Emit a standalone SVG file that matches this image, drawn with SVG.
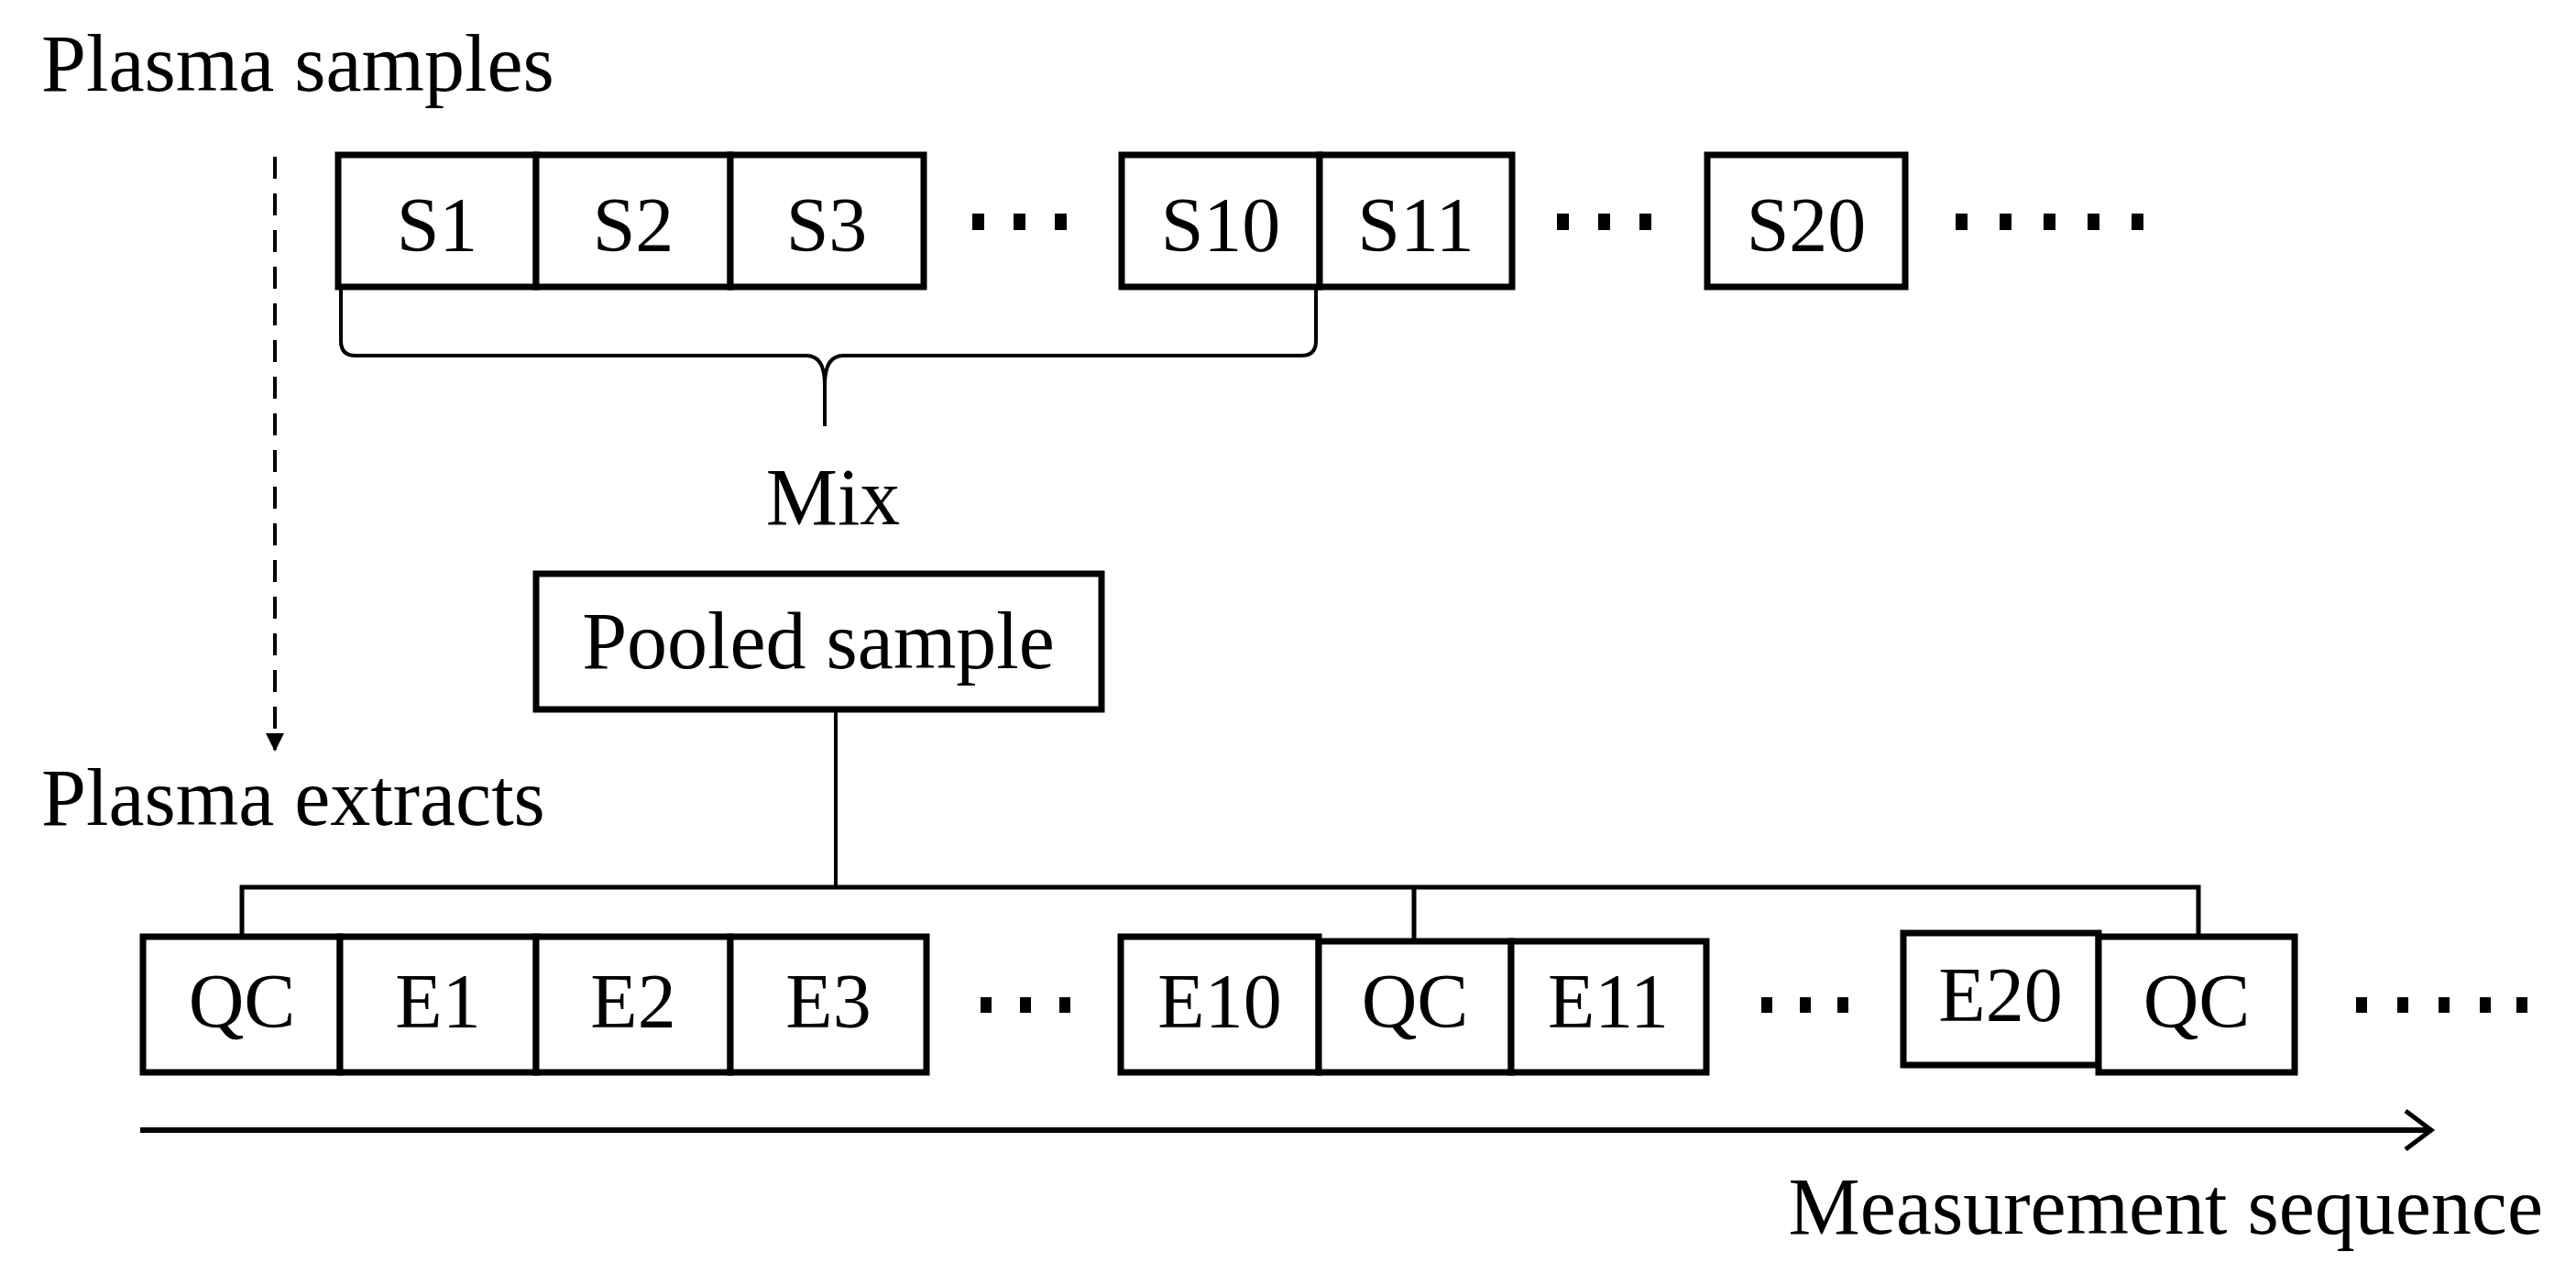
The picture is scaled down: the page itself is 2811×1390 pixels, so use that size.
<svg xmlns="http://www.w3.org/2000/svg" width="2811" height="1390" viewBox="0 0 2811 1390">
<style>
text{font-family:"Liberation Serif","Times New Roman",serif;fill:#000}
.lbl{font-size:84px;text-anchor:middle}
.big{font-size:88px}
.box{fill:#fff;stroke:#000;stroke-width:7}
.ln{fill:none;stroke:#000;stroke-width:4}
.dot{fill:#000}
</style>
<defs>
<marker id="ah" viewBox="0 0 20 20" refX="18" refY="10" markerWidth="20" markerHeight="20" markerUnits="userSpaceOnUse" orient="auto"><path d="M0,0 L20,10 L0,20 Z" fill="#000"/></marker>
</defs>
<rect width="2811" height="1390" fill="#fff"/>
<text class="big" x="45" y="99">Plasma samples</text>
<text class="big" x="45" y="900">Plasma extracts</text>
<text class="big" x="2775" y="1346" text-anchor="end">Measurement sequence</text>
<text class="big" x="909" y="572" text-anchor="middle">Mix</text>
<g id="samples">
<g id="S1"><rect class="box" x="369" y="169" width="216" height="144"/><text class="lbl" x="477" y="274">S1</text></g>
<g id="S2"><rect class="box" x="585" y="169" width="212" height="144"/><text class="lbl" x="691" y="274">S2</text></g>
<g id="S3"><rect class="box" x="797" y="169" width="211" height="144"/><text class="lbl" x="902" y="274">S3</text></g>
<g id="S10"><rect class="box" x="1224" y="169" width="216" height="144"/><text class="lbl" x="1332" y="274">S10</text></g>
<g id="S11"><rect class="box" x="1440" y="169" width="210" height="144"/><text class="lbl" x="1545" y="274">S11</text></g>
<g id="S20"><rect class="box" x="1863" y="169" width="216" height="144"/><text class="lbl" x="1971" y="274">S20</text></g>
</g>
<g id="dots-top" class="dot">
<rect x="1061" y="233" width="13" height="18"/><rect x="1106" y="233" width="13" height="18"/><rect x="1151" y="233" width="13" height="18"/>
<rect x="1699" y="233" width="13" height="18"/><rect x="1744" y="233" width="13" height="18"/><rect x="1789" y="233" width="13" height="18"/>
<rect x="2134" y="233" width="13" height="18"/><rect x="2182" y="233" width="13" height="18"/><rect x="2230" y="233" width="13" height="18"/><rect x="2278" y="233" width="13" height="18"/><rect x="2326" y="233" width="13" height="18"/>
</g>
<g id="pooled"><rect class="box" x="585" y="626" width="617" height="148"/><text class="big" x="893" y="729" text-anchor="middle">Pooled sample</text></g>
<g id="extracts">
<g id="QC1"><rect class="box" x="156" y="1022" width="215" height="148"/><text class="lbl" x="264" y="1121">QC</text></g>
<g id="E1"><rect class="box" x="371" y="1022" width="214" height="148"/><text class="lbl" x="478" y="1121">E1</text></g>
<g id="E2"><rect class="box" x="585" y="1022" width="212" height="148"/><text class="lbl" x="691" y="1121">E2</text></g>
<g id="E3"><rect class="box" x="797" y="1022" width="214" height="148"/><text class="lbl" x="904" y="1121">E3</text></g>
<g id="E10"><rect class="box" x="1223" y="1022" width="216" height="148"/><text class="lbl" x="1331" y="1121">E10</text></g>
<g id="QC2"><rect class="box" x="1439" y="1027" width="210" height="143"/><text class="lbl" x="1544" y="1121">QC</text></g>
<g id="E11"><rect class="box" x="1649" y="1027" width="213" height="143"/><text class="lbl" x="1755" y="1121">E11</text></g>
<g id="E20"><rect class="box" x="2077" y="1018" width="213" height="144"/><text class="lbl" x="2183" y="1114">E20</text></g>
<g id="QC3"><rect class="box" x="2290" y="1022" width="214" height="148"/><text class="lbl" x="2397" y="1121">QC</text></g>
</g>
<g id="dots-bottom" class="dot">
<rect x="1070" y="1088" width="12" height="17"/><rect x="1113" y="1088" width="12" height="17"/><rect x="1156" y="1088" width="12" height="17"/>
<rect x="1922" y="1088" width="12" height="17"/><rect x="1964" y="1088" width="12" height="17"/><rect x="2005" y="1088" width="12" height="17"/>
<rect x="2571" y="1088" width="12" height="17"/><rect x="2616" y="1088" width="12" height="17"/><rect x="2661" y="1088" width="12" height="17"/><rect x="2706" y="1088" width="12" height="17"/><rect x="2746" y="1088" width="12" height="17"/>
</g>
<g id="connectors">
<path class="ln" d="M372 313 V372 Q372 388 388 388 H880 Q900 388 900 420 V465 M900 420 Q900 388 920 388 H1420 Q1436 388 1436 372 V313"/>
<line class="ln" x1="300" y1="171" x2="300" y2="818" stroke-dasharray="24 16" marker-end="url(#ah)"/>
<line class="ln" x1="912" y1="774" x2="912" y2="966"/>
<path class="ln" d="M264 1022 V968 H2399 V1022 M1543 968 V1027" style="stroke-width:5"/>
<line class="ln" x1="153" y1="1233" x2="2650" y2="1233" style="stroke-width:6"/>
<path class="ln" d="M2625 1212 L2653 1233 L2625 1254" style="stroke-width:5"/>
</g>
</svg>
